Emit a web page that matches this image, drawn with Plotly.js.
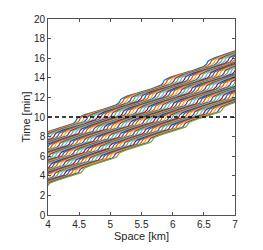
<!DOCTYPE html>
<html><head><meta charset="utf-8">
<script src="https://cdn.plot.ly/plotly-3.0.1.min.js"></script>
<style>html,body{margin:0;padding:0;background:#fff;overflow:hidden}</style>
</head><body><div id="chart" style="width:263px;height:250px"></div>
<script>
// Mean-line time (min) at x = 4 km of each vehicle trajectory, top vehicle first
var vehicleTimeAt4 = [8.41, 8.31, 8.20, 8.10, 8.00, 7.90, 7.80, 7.69, 7.59, 7.49,
  7.39, 7.29, 7.18, 7.08, 6.98, 6.88, 6.78, 6.67, 6.57, 6.47,
  6.37, 6.27, 6.16, 6.06, 5.96, 5.86, 5.76, 5.65, 5.55, 5.45,
  5.35, 5.25, 5.14, 5.04, 4.94, 4.84, 4.74, 4.63, 4.53, 4.43,
  4.33, 4.23, 4.12, 4.02, 3.92, 3.82, 3.72, 3.61, 3.51, 3.41,
  3.31, 3.21, 3.10, 3.00];
// Stop-and-go wave fronts: time (min) at which each front passes x = 4 km
var frontTimeAt4 = [0.0, 1.0, 2.0, 3.0, 4.0, 5.0, 5.99, 6.99, 7.98, 9.21, 10.46, 11.7, 12.95, 14.2, 15.45, 16.7];
var frontPace = 1.0;     // min per km along a wave front
var meanPace = 2.78;     // mean travel pace of the vehicles, min per km
var dashedTime = [10, 10];
var dashedSpace = [4, 7];
var colorOrder = ['#0072BD', '#D95319', '#EDB120', '#7E2F8E', '#77AC30', '#4DBEEE', '#A2142F'];
var xTicks = [4, 4.5, 5, 5.5, 6, 6.5, 7];
var xTickText = ['4', '4.5', '5', '5.5', '6', '6.5', '7'];
var yTicks = [0, 2, 4, 6, 8, 10, 12, 14, 16, 18, 20];

function trajectory(e) {
  // stop events: where the vehicle's mean line meets each wave front
  var stops = [];
  frontTimeAt4.forEach(function (f) {
    var xs = 4 + (f - e) / (meanPace - frontPace);
    stops.push([xs, e + meanPace * (xs - 4)]);
  });
  stops = stops.filter(function (s) { return s[0] > 2.8 && s[0] < 8.2; });
  var xs = [], ts = [];
  var n = 30;
  for (var k = 0; k < stops.length - 1; k++) {
    var a = stops[k], b = stops[k + 1];
    var dx = b[0] - a[0], dt = b[1] - a[1];
    for (var m = (k === 0 ? 0 : 1); m <= n; m++) {
      var ph = Math.PI * m / n;
      xs.push(a[0] + dx * (1 - Math.cos(ph)) / 2);
      ts.push(a[1] + dt * ph / Math.PI);
    }
  }
  return {x: xs, y: ts};
}

var traces = vehicleTimeAt4.map(function (e, i) {
  var tr = trajectory(e);
  return {x: tr.x, y: tr.y, type: 'scatter', mode: 'lines',
    line: {color: colorOrder[i % colorOrder.length], width: 1.2}, hoverinfo: 'skip'};
});
traces.push({x: dashedSpace, y: dashedTime, type: 'scatter', mode: 'lines',
  line: {color: '#000000', width: 1.4, dash: '4px,3px'}, hoverinfo: 'skip'});

var axisCommon = {
  showgrid: false, zeroline: false, showline: true, linecolor: '#262626', linewidth: 0.8,
  mirror: 'ticks', ticks: 'inside', ticklen: 3, tickwidth: 0.8, tickcolor: '#262626',
  tickfont: {size: 10, color: '#262626'}
};
var layout = {
  width: 263, height: 250,
  margin: {l: 48, r: 28, t: 19, b: 35, pad: 0},
  paper_bgcolor: '#ffffff', plot_bgcolor: '#ffffff', showlegend: false,
  font: {family: '"Liberation Sans", Arial, sans-serif', size: 10, color: '#262626'},
  xaxis: Object.assign({}, axisCommon, {range: [4, 7], tickvals: xTicks, ticktext: xTickText,
    title: {text: 'Space [km]', font: {size: 11, color: '#262626'}, standoff: 3}}),
  yaxis: Object.assign({}, axisCommon, {range: [0, 20], tickvals: yTicks,
    title: {text: 'Time [min]', font: {size: 11, color: '#262626'}, standoff: 1}})
};
Plotly.newPlot('chart', traces, layout, {staticPlot: true, displayModeBar: false});
</script>
</body></html>
